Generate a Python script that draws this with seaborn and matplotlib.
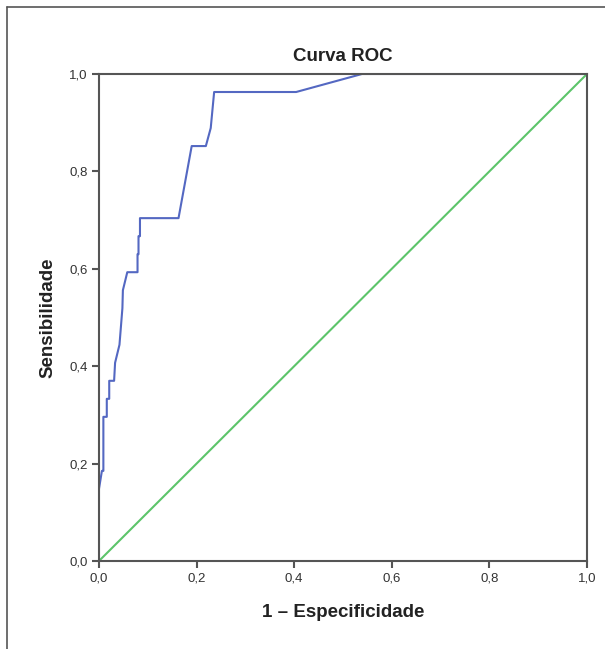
import numpy as np
import pandas as pd
import matplotlib
matplotlib.use("Agg")
import matplotlib.pyplot as plt
import seaborn as sns
from matplotlib.lines import Line2D

# ROC curve points (27 positives -> steps of 1/27)
fpr = [0.0, 0.0, 0.006, 0.009, 0.009, 0.016, 0.016, 0.021, 0.021, 0.031,
       0.033, 0.042, 0.048, 0.049, 0.058, 0.079, 0.079, 0.081, 0.081, 0.084,
       0.084, 0.163, 0.190, 0.219, 0.229, 0.236, 0.404, 0.539, 1.0]
tpr = [0.0, 0.148, 0.185, 0.185, 0.296, 0.296, 0.333, 0.333, 0.370, 0.370,
       0.407, 0.444, 0.519, 0.556, 0.593, 0.593, 0.630, 0.630, 0.667, 0.667,
       0.704, 0.704, 0.852, 0.852, 0.889, 0.963, 0.963, 1.0, 1.0]
ref_x = [0.0, 1.0]
ref_y = [0.0, 1.0]
ticks = [0.0, 0.2, 0.4, 0.6, 0.8, 1.0]
tick_labels = ["0,0", "0,2", "0,4", "0,6", "0,8", "1,0"]

sns.set_theme(style="white")
plt.rcParams["font.family"] = ["Liberation Sans", "DejaVu Sans"]

roc = pd.DataFrame({"fpr": fpr, "tpr": tpr})
diag = pd.DataFrame({"x": ref_x, "y": ref_y})

fig = plt.figure(figsize=(6.05, 6.49), dpi=100)
ax = fig.add_axes([0.1636, 0.1356, 0.8066, 0.7504])

sns.lineplot(data=diag, x="x", y="y", ax=ax, color="#5cc46a", lw=1.5,
             sort=False, estimator=None)
sns.lineplot(data=roc, x="fpr", y="tpr", ax=ax, color="#5468c2", lw=1.5,
             sort=False, estimator=None)

ax.set_xlim(0, 1)
ax.set_ylim(0, 1)
ax.set_xticks(ticks)
ax.set_xticklabels(tick_labels)
ax.set_yticks(ticks)
ax.set_yticklabels(tick_labels)
ax.tick_params(axis="both", direction="out", length=5, width=1.5,
               color="#555555", labelsize=9.5, labelcolor="#333333",
               bottom=True, left=True, pad=3)
for s in ax.spines.values():
    s.set_color("#555555")
    s.set_linewidth(1.5)

ax.set_title("Curva ROC", fontsize=13.5, fontweight="bold", color="#222222", pad=9)
ax.set_xlabel("1 – Especificidade", fontsize=13.5, fontweight="bold",
              color="#222222", labelpad=14)
ax.set_ylabel("Sensibilidade", fontsize=13.5, fontweight="bold",
              color="#222222", labelpad=9)

# outer frame (top and left edges visible)
fig.add_artist(Line2D([0.0116, 1.0], [0.989, 0.989], color="#555555", lw=1.2))
fig.add_artist(Line2D([0.0116, 0.0116], [0.0, 0.989], color="#555555", lw=1.2))

fig.savefig("out.png", dpi=100)
